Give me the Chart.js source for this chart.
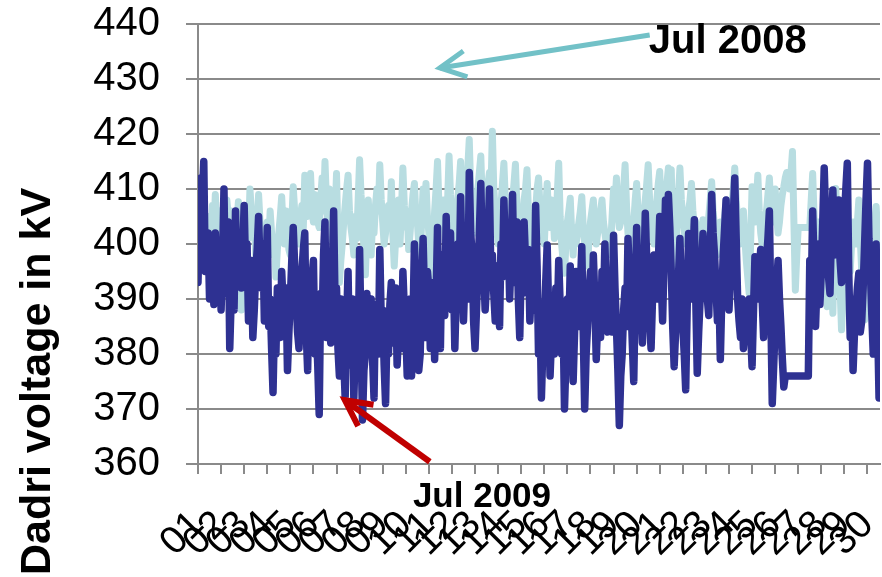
<!DOCTYPE html>
<html>
<head>
<meta charset="utf-8">
<script src="https://cdn.jsdelivr.net/npm/chart.js@4.4.1/dist/chart.umd.min.js"></script>
<style>
  html, body { margin: 0; padding: 0; background: #fff; }
  #wrap { width: 882px; height: 577px; position: relative; }
</style>
</head>
<body>
<div id="wrap"><canvas id="voltage-chart"></canvas></div>
<script>
// day labels under the ticks (one tick every 24 h)
const dayLabels = ['01', '02', '03', '04', '05', '06', '07', '08', '09', '10',
  '11', '12', '13', '14', '15', '16', '17', '18', '19', '20',
  '21', '22', '23', '24', '25', '26', '27', '28', '29', '30'];

// one reading every 1.5 hours (kV)
const hoursPerPoint = 1.5;

const jul2009 = [
  393, 405, 412, 408, 415, 395, 400, 402, 390, 398, 395, 389, 402, 396, 392, 400, 388, 397, 410, 391,
  398, 404, 381, 390, 395, 388, 406, 393, 398, 401, 392, 399, 407, 395, 400, 386, 390, 397, 383, 388,
  395, 399, 405, 396, 392, 400, 386, 394, 403, 385, 390, 381, 373, 386, 380, 392, 388, 383, 395, 389,
  385, 392, 377, 384, 390, 397, 403, 396, 390, 384, 381, 389, 395, 399, 402, 384, 377, 393, 388, 394,
  397, 380, 385, 378, 369, 391, 385, 398, 404, 383, 390, 395, 382, 394, 406, 389, 392, 381, 376, 390,
  385, 379, 372, 386, 395, 378, 385, 390, 372, 381, 388, 380, 399, 383, 368, 377, 380, 391, 386, 381,
  390, 379, 372, 389, 385, 380, 399, 386, 388, 378, 371, 385, 380, 389, 393, 382, 385, 392, 378, 384,
  388, 381, 395, 388, 385, 376, 380, 390, 376, 386, 400, 392, 388, 377, 380, 392, 401, 390, 383, 395,
  392, 381, 385, 393, 379, 390, 403, 388, 381, 398, 395, 387, 405, 393, 398, 402, 388, 395, 381, 391,
  400, 392, 408.6, 397, 386, 394, 400, 390, 413, 402, 398, 386, 381, 388, 395, 402, 411, 399, 396, 388,
  393, 401, 410, 394, 398, 391, 386, 396, 392, 385, 400, 394, 408, 399, 395, 402, 390, 398, 409, 393,
  398, 404, 390, 383, 396, 391, 404, 397, 392, 399, 386, 392, 396, 388, 407, 396, 380, 389, 372, 381,
  385, 393, 399.8, 388, 376, 383, 388, 380, 392, 386, 397, 389, 380, 387, 370, 379, 390, 384, 396, 386,
  375, 384, 395, 388, 385, 392, 399.5, 384, 370, 380, 385, 391, 395, 387, 398, 390, 379, 386, 388, 383,
  395, 388, 400, 391, 384, 393, 390, 384, 401.6, 392, 385, 377, 367, 376, 380, 388, 392, 385, 401, 394,
  390, 382, 375, 390, 403, 392, 385, 390, 382, 394, 405.6, 397, 392, 386, 381, 390, 398, 393, 390, 396,
  405, 394, 386, 397, 408, 400, 409, 403, 395, 385, 377.7, 384, 390, 394, 401, 392, 385, 380, 373.5, 388,
  401.9, 395, 390, 398, 404.4, 390, 376.5, 384, 390, 396, 401.9, 397, 394, 390, 387, 398, 409, 402, 398, 392,
  386, 392, 379, 390, 398, 403, 408, 396, 388, 394, 400, 405, 412, 401, 390, 386, 383, 390, 381, 385,
  388, 383, 390, 384, 377.7, 388, 397.7, 392, 390, 395, 399, 390, 383, 391, 397, 401, 406, 388, 371, 378,
  385, 392, 397, 390, 385, 379, 374, 376, 376, 376, 376, 376, 376, 376, 376, 376, 376, 376, 376, 376,
  376, 376, 376, 376, 397, 390, 406, 396, 385, 393, 400, 389, 395, 404, 413.8, 405, 400, 394, 391, 402,
  409.8, 398, 400, 405, 408, 397, 393, 401, 405, 410, 414.7, 395, 383, 390, 377, 384, 388, 392, 394.7, 384,
  386, 392, 400, 408, 414.7, 401, 395, 387, 380, 392, 400, 386, 372, 385, 397
];

const jul2008 = [
  400, 406, 404, 401, 398, 402, 397, 405, 403, 399, 407, 402, 409, 404, 400, 406, 404, 401, 396, 403,
  408, 405, 400, 406, 403, 401, 398, 404, 407.7, 397, 388, 395, 400, 403, 405, 401, 410, 406, 402, 404,
  398, 403, 409, 404, 400, 402, 396, 401, 404, 399, 406, 402, 398, 401, 394, 399, 402, 405, 408.6, 403,
  400, 406, 403, 399, 398, 404, 410.4, 406, 404, 401, 400, 405, 407, 403, 412.5, 408, 405, 407, 412.8, 406,
  404, 409, 408, 404, 403, 408, 412, 406, 415, 408, 404, 410, 408, 402, 398, 405, 412.8, 401, 393, 397,
  400, 404, 407, 410, 412.5, 406, 403, 401, 398, 405, 401, 408, 415.3, 409, 405, 399, 394.4, 402, 408, 403,
  398, 404, 402, 407, 410, 406, 414.4, 408, 404, 400, 402, 405, 407, 403, 411.3, 402, 396, 401, 405, 408,
  400, 406, 413.8, 407, 403, 406, 399, 402, 406, 409, 411, 405, 404, 400, 398, 404, 410, 406, 411, 405,
  402, 397, 392, 400, 406, 410, 415, 407, 404, 405, 408, 402, 398, 408, 416, 409, 405, 400, 395, 402,
  408, 411, 415, 406, 404, 407, 410, 414, 419, 410, 406, 403, 402, 406, 410, 413, 416, 408, 404, 409,
  408, 411, 413, 409, 420.5, 410, 406, 403, 400, 404, 407, 411, 414.7, 408, 404, 401, 398, 403, 408, 411,
  414.5, 407, 403, 405, 400, 404, 408, 410, 413.5, 406, 402, 400, 398, 403, 406, 410, 412, 407, 404, 402,
  400, 406, 411, 405, 403, 408, 406, 401, 402, 409, 414.7, 405, 400, 397, 394.7, 400, 404, 406, 408.3, 402,
  398, 403, 400, 402, 404, 406, 408.6, 403, 400, 398, 396, 401, 404, 406, 408, 403, 400, 402, 403, 406,
  408, 404, 402, 400, 398, 402, 400, 405, 410, 407, 412, 406, 403, 404, 406, 410, 414.4, 407, 402, 399,
  397, 401, 404, 408, 411, 406, 403, 401, 400, 405, 408, 411, 414.4, 408, 403, 402, 400, 404, 408, 411,
  413.2, 406, 402, 405, 408, 411, 413.8, 409, 413.5, 402, 394, 399, 404, 409, 413.8, 408, 405, 402, 400, 403,
  406, 408, 411, 406, 403, 404, 401, 399, 398, 401, 404.4, 402, 399, 402, 405, 408, 411.3, 406, 403, 400,
  398, 401, 404, 403, 401, 405, 408, 404, 400, 403, 407, 410, 413.8, 408, 404, 402, 400, 403, 406, 401,
  397, 394, 391, 400, 410.4, 407, 404, 408, 412.5, 406, 402, 400, 398, 402, 406, 409, 412, 407, 404, 407,
  410, 405, 402, 404, 407, 409, 410.4, 412, 413, 411, 410, 413, 416.8, 404, 391.6, 398, 403, 403, 403, 403,
  403, 403, 403, 403, 403, 408, 412.8, 405, 398, 401, 404, 397, 390.4, 398, 405, 396, 388.6, 394, 400, 395,
  387.4, 400, 410.1, 404, 400, 392, 384.4, 390, 396, 400, 402, 398, 395, 400, 404, 402, 400, 404, 408, 401,
  395, 390, 386.2, 392, 398, 401, 403, 405, 400, 404, 406.8, 402, 398, 404, 408
];

const FONT = "'Liberation Sans', Arial, sans-serif";
const GRID = '#8a8a8a';

function toPoints(values) {
  return values.map((v, i) => ({ x: i * hoursPerPoint, y: v }));
}

function arrow(ctx, tail, tip, color, width) {
  const ang = Math.atan2(tail[1] - tip[1], tail[0] - tip[0]);
  const arm = 29, spread = 0.47;
  ctx.save();
  ctx.strokeStyle = color;
  ctx.lineWidth = width;
  ctx.beginPath();
  ctx.moveTo(tail[0], tail[1]);
  ctx.lineTo(tip[0], tip[1]);
  ctx.stroke();
  ctx.beginPath();
  ctx.moveTo(tip[0] + arm * Math.cos(ang - spread), tip[1] + arm * Math.sin(ang - spread));
  ctx.lineTo(tip[0], tip[1]);
  ctx.lineTo(tip[0] + arm * Math.cos(ang + spread), tip[1] + arm * Math.sin(ang + spread));
  ctx.stroke();
  ctx.restore();
}

// labels + arrows, placed in data units (hours, kV)
const annotations = {
  id: 'annotations',
  afterDraw(chart) {
    const { ctx } = chart;
    const { x, y } = chart.scales;
    const px = (h, kv) => [x.getPixelForValue(h), y.getPixelForValue(kv)];

    ctx.save();
    ctx.fillStyle = '#000';
    ctx.translate(50, 575);
    ctx.rotate(-Math.PI / 2);
    ctx.font = 'bold 43px ' + FONT;
    ctx.fillText('Dadri voltage in kV', 0, 0);
    ctx.restore();

    arrow(ctx, px(469.6, 438), px(251.4, 432), '#72c1c7', 5);
    arrow(ctx, px(241, 360.4), px(152.7, 371.6), '#c00000', 6);

    ctx.save();
    ctx.fillStyle = '#000';
    ctx.font = 'bold 40px ' + FONT;
    let p = px(468.6, 434.7);
    ctx.fillText('Jul 2008', p[0], p[1]);
    ctx.font = 'bold 35px ' + FONT;
    p = px(223.4, 352.2);
    ctx.fillText('Jul 2009', p[0], p[1]);
    ctx.restore();
  }
};

new Chart(document.getElementById('voltage-chart'), {
  type: 'line',
  data: {
    datasets: [{
      label: 'Jul 2009',
      data: toPoints(jul2009),
      borderColor: '#2e3192',
      borderWidth: 7.5,
      borderJoinStyle: 'round',
      borderCapStyle: 'round',
      pointRadius: 0,
      tension: 0,
      order: 0
    }, {
      label: 'Jul 2008',
      data: toPoints(jul2008),
      borderColor: '#b8dde1',
      borderWidth: 7,
      borderJoinStyle: 'round',
      borderCapStyle: 'round',
      pointRadius: 0,
      tension: 0,
      order: 1
    }]
  },
  options: {
    responsive: true,
    maintainAspectRatio: false,
    animation: false,
    layout: { padding: { top: 24, right: 2, left: 0, bottom: 0 } },
    plugins: { legend: { display: false }, tooltip: { enabled: false } },
    scales: {
      x: {
        type: 'linear',
        min: 0,
        max: 709,
        afterBuildTicks(scale) { scale.ticks = dayLabels.map((d, i) => ({ value: i * 24 })); },
        afterFit(scale) { scale.height = 113; scale.paddingLeft = 0; scale.paddingRight = 0; },
        border: { color: GRID, width: 2 },
        grid: { drawOnChartArea: false, color: GRID, lineWidth: 2, tickLength: 10 },
        ticks: {
          autoSkip: false,
          maxRotation: 45,
          minRotation: 45,
          padding: 28,
          color: '#000',
          font: { family: FONT, size: 39 },
          callback: (v) => dayLabels[Math.round(v / 24)] ?? ''
        }
      },
      y: {
        min: 360,
        max: 440,
        afterFit(scale) { scale.width = 198; scale.paddingTop = 0; scale.paddingBottom = 0; },
        border: { color: GRID, width: 2 },
        grid: { color: GRID, lineWidth: 2, tickLength: 12 },
        ticks: {
          stepSize: 10,
          padding: 26,
          color: '#000',
          font: { family: FONT, size: 40 }
        }
      }
    }
  },
  plugins: [annotations]
});
</script>
</body>
</html>
